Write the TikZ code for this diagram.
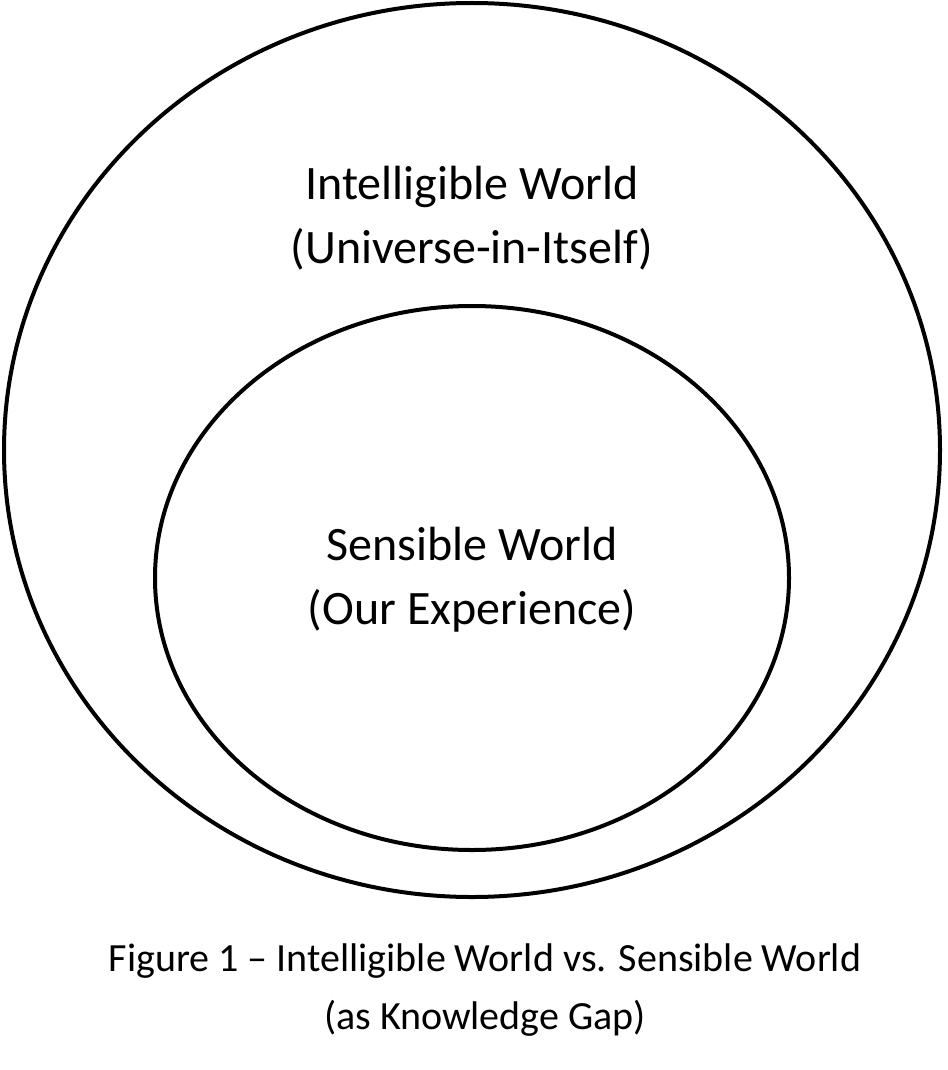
\documentclass[tikz,border=0pt]{standalone}
\usepackage{fontspec}
\setmainfont{Carlito}
\begin{document}
\begin{tikzpicture}[x=1pt,y=-1pt,
  ring/.style={draw=black,line width=4pt},
  lbl/.style={align=center,font=\fontsize{48}{64}\selectfont},
  captext/.style={align=center,font=\fontsize{40}{58}\selectfont}]
\useasboundingbox (0,0) rectangle (947,1070);
\draw[ring] (472,450) ellipse [x radius=468, y radius=447];
\draw[ring] (472,578) ellipse [x radius=317, y radius=272];
\node[lbl] (outer) at (472,218) {Intelligible World\\(Universe-in-Itself)};
\node[lbl] (inner) at (472,580) {Sensible World\\(Our Experience)};
\node[captext] (caption) at (485,990) {Figure 1 -- Intelligible World vs. Sensible World\\(as Knowledge Gap)};
\end{tikzpicture}
\end{document}
